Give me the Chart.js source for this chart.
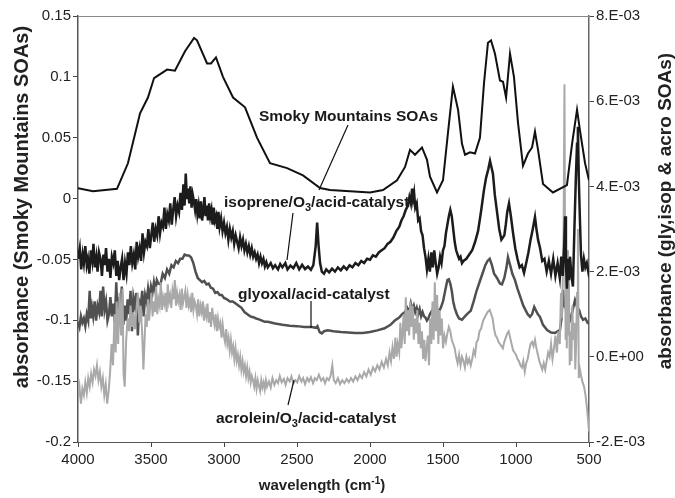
<!DOCTYPE html>
<html><head><meta charset="utf-8">
<script src="https://cdn.jsdelivr.net/npm/chart.js@4/dist/chart.umd.min.js"></script>
<style>html,body{margin:0;padding:0;background:#fff}#wrap{width:675px;height:498px}</style>
</head><body><div id="wrap"><canvas id="c" width="675" height="498"></canvas></div>
<script>
// x tick values / labels
const xTicks = [4000,3500,3000,2500,2000,1500,1000,500];
const leftTicks = [0.15,0.1,0.05,0,-0.05,-0.1,-0.15,-0.2];
const leftLabels = ['0.15','0.1','0.05','0','-0.05','-0.1','-0.15','-0.2'];
const rightTicks = [8,6,4,2,0,-2]; // in 1E-3
const rightLabels = ['8.E-03','6.E-03','4.E-03','2.E-03','0.E+00','-2.E-03'];

// Smoky Mountains SOAs (left axis) [wavenumber, absorbance]
const smoky = [[4000,0.0086],[3897,0.006],[3733,0.008],[3658,0.029],[3575,0.070],[3521,0.083],[3479,0.099],[3390,0.106],[3336,0.105],[3267,0.121],[3205,0.132],[3185,0.130],[3116,0.111],[3089,0.111],[3055,0.116],[3007,0.100],[2938,0.083],[2856,0.075],[2774,0.050],[2685,0.029],[2568,0.025],[2459,0.019],[2342,0.0086],[2274,0.007],[2000,0.005],[1911,0.007],[1815,0.015],[1760,0.026],[1726,0.040],[1692,0.036],[1644,0.042],[1610,0.032],[1589,0.018],[1541,0.005],[1500,0.015],[1466,0.054],[1432,0.092],[1397,0.073],[1370,0.045],[1349,0.036],[1315,0.038],[1281,0.037],[1247,0.050],[1219,0.095],[1192,0.128],[1171,0.130],[1144,0.119],[1110,0.097],[1089,0.096],[1068,0.083],[1041,0.119],[1014,0.100],[986,0.062],[952,0.027],[918,0.037],[890,0.042],[870,0.055],[849,0.040],[815,0.012],[747,0.005],[651,0.011],[616,0.045],[582,0.073],[562,0.056],[527,0.029],[500,0.015]];

// isoprene/O3/acid-catalyst (right axis, x1E-3)
const isoprene = [[4000,2.3],[3988,2.55],[3978,2.05],[3968,2.4],[3960,2.2],[3950,2.6],[3940,2.15],[3932,2.3],[3922,1.95],[3912,2.5],[3902,2.25],[3894,2.65],[3884,2.1],[3874,2.35],[3866,2.0],[3856,2.45],[3846,2.3],[3836,1.9],[3826,2.4],[3818,2.15],[3808,2.55],[3798,2.0],[3788,2.3],[3778,1.85],[3768,2.35],[3758,2.2],[3748,2.5],[3738,1.9],[3728,2.25],[3718,1.8],[3708,2.1],[3698,2.3],[3688,1.8],[3678,2.2],[3668,1.95],[3658,2.45],[3648,2.15],[3638,2.6],[3628,2.2],[3618,2.4],[3608,2.05],[3598,2.7],[3588,2.35],[3578,2.55],[3568,2.25],[3558,2.9],[3548,2.45],[3538,2.7],[3528,2.6],[3518,3.0],[3508,2.55],[3498,2.85],[3488,3.15],[3478,2.7],[3468,3.0],[3458,2.85],[3448,3.3],[3438,2.9],[3428,3.15],[3418,3.05],[3408,3.5],[3398,3.0],[3388,3.35],[3378,3.2],[3368,3.6],[3358,3.1],[3348,3.45],[3338,3.75],[3328,3.3],[3318,3.55],[3308,3.4],[3298,3.85],[3288,3.45],[3278,4.05],[3270,3.55],[3262,4.3],[3254,3.7],[3246,3.95],[3238,3.6],[3230,4.0],[3222,3.5],[3214,3.8],[3206,3.65],[3198,3.45],[3190,3.7],[3182,3.35],[3174,3.55],[3166,3.25],[3158,3.65],[3150,3.2],[3142,3.4],[3134,3.75],[3126,3.3],[3118,3.55],[3110,3.2],[3102,3.6],[3094,3.3],[3086,3.45],[3078,3.1],[3070,3.5],[3062,3.2],[3054,3.3],[3046,3.0],[3038,3.4],[3030,3.05],[3020,3.25],[3010,2.95],[3000,3.15],[2990,2.9],[2980,3.05],[2970,2.75],[2960,3.0],[2950,2.8],[2940,2.95],[2930,2.65],[2920,2.85],[2910,2.7],[2900,2.55],[2890,2.8],[2880,2.6],[2870,2.75],[2860,2.5],[2850,2.65],[2840,2.45],[2830,2.6],[2820,2.4],[2810,2.55],[2800,2.35],[2790,2.45],[2780,2.3],[2770,2.4],[2760,2.2],[2750,2.35],[2740,2.2],[2730,2.3],[2720,2.12],[2710,2.22],[2700,2.1],[2680,2.2],[2665,2.08],[2650,2.15],[2630,2.05],[2615,2.18],[2600,2.1],[2580,2.2],[2565,2.05],[2545,2.14],[2525,2.08],[2505,2.2],[2485,2.05],[2465,2.16],[2445,2.06],[2425,2.12],[2405,2.04],[2388,2.15],[2372,2.6],[2362,3.15],[2352,2.6],[2342,2.2],[2330,2.0],[2315,1.95],[2300,2.05],[2280,1.98],[2260,2.07],[2240,2.0],[2220,2.1],[2200,2.03],[2180,2.12],[2160,2.05],[2140,2.15],[2120,2.1],[2100,2.2],[2080,2.15],[2060,2.25],[2040,2.2],[2020,2.3],[2000,2.28],[1980,2.38],[1960,2.35],[1940,2.45],[1920,2.5],[1900,2.55],[1880,2.65],[1860,2.7],[1840,2.8],[1820,2.95],[1800,3.05],[1785,3.2],[1770,3.3],[1755,3.45],[1740,3.55],[1730,3.75],[1720,3.6],[1712,3.95],[1705,3.7],[1698,3.85],[1690,3.5],[1680,3.6],[1670,3.2],[1660,3.25],[1650,2.95],[1640,2.85],[1630,2.55],[1620,2.35],[1610,2.05],[1600,2.3],[1590,2.0],[1580,2.45],[1570,2.1],[1560,2.5],[1550,2.2],[1540,1.95],[1530,2.1],[1520,2.35],[1510,2.2],[1500,2.5],[1490,2.6],[1480,2.9],[1470,3.1],[1460,3.3],[1450,3.45],[1440,3.3],[1430,3.0],[1420,2.7],[1410,2.5],[1400,2.4],[1390,2.3],[1380,2.35],[1370,2.2],[1360,2.25],[1340,2.3],[1320,2.4],[1300,2.5],[1280,2.7],[1260,2.95],[1240,3.4],[1220,3.9],[1205,4.2],[1190,4.4],[1178,4.6],[1168,4.45],[1158,4.3],[1145,3.8],[1130,3.4],[1115,3.0],[1100,2.75],[1090,2.8],[1080,2.85],[1070,3.1],[1060,3.4],[1048,3.6],[1035,3.3],[1020,2.9],[1005,2.55],[990,2.3],[975,2.1],[960,2.15],[945,1.97],[930,2.2],[915,2.45],[900,2.75],[885,3.0],[870,3.28],[860,3.0],[849,2.75],[835,2.55],[820,2.25],[805,2.3],[790,2.0],[775,2.25],[760,1.95],[745,2.3],[730,1.9],[715,2.2],[700,1.85],[690,2.35],[680,1.9],[670,2.6],[664,3.3],[658,2.2],[651,1.6],[644,2.3],[637,1.8],[630,2.35],[620,1.9],[610,1.65],[600,3.0],[590,4.2],[582,5.0],[576,5.4],[570,4.2],[562,3.2],[555,2.4],[545,2.0],[535,2.3],[525,2.1],[515,2.2],[505,2.0],[500,2.1]];

// glyoxal/acid-catalyst (right axis, x1E-3)
const glyoxal = [[4000,0.82],[3990,0.7],[3980,0.95],[3970,0.8],[3960,0.9],[3950,0.72],[3940,1.0],[3930,0.85],[3920,1.55],[3912,0.9],[3904,1.15],[3896,0.95],[3886,1.3],[3876,0.85],[3866,1.2],[3856,1.05],[3846,1.55],[3838,0.95],[3828,1.65],[3818,1.1],[3808,1.3],[3798,0.85],[3788,1.0],[3778,1.4],[3768,0.95],[3758,1.25],[3748,0.8],[3738,1.75],[3730,1.1],[3720,1.4],[3710,1.0],[3700,1.65],[3690,0.75],[3680,1.2],[3670,0.85],[3660,1.35],[3650,1.0],[3640,1.55],[3630,0.6],[3620,1.4],[3610,1.2],[3600,1.5],[3590,0.5],[3580,1.3],[3570,1.2],[3560,1.55],[3550,0.95],[3540,1.45],[3530,1.3],[3520,1.6],[3510,1.35],[3500,1.65],[3490,1.5],[3480,1.75],[3470,1.55],[3460,1.8],[3450,1.72],[3435,1.7],[3420,1.95],[3405,1.85],[3390,2.05],[3375,1.95],[3360,2.15],[3345,2.1],[3330,2.25],[3315,2.2],[3300,2.3],[3285,2.3],[3270,2.4],[3255,2.38],[3240,2.38],[3225,2.33],[3210,2.2],[3195,2.0],[3180,1.85],[3165,1.8],[3150,1.75],[3135,1.78],[3120,1.7],[3105,1.72],[3090,1.62],[3075,1.6],[3060,1.5],[3045,1.52],[3030,1.45],[3015,1.45],[3000,1.38],[2980,1.35],[2960,1.3],[2940,1.3],[2920,1.25],[2900,1.2],[2880,1.15],[2860,1.05],[2840,1.0],[2820,0.95],[2800,0.93],[2780,0.9],[2760,0.88],[2740,0.85],[2720,0.82],[2700,0.82],[2650,0.78],[2600,0.75],[2550,0.73],[2500,0.72],[2450,0.7],[2400,0.7],[2370,0.68],[2360,0.72],[2345,0.58],[2330,0.55],[2315,0.6],[2290,0.62],[2250,0.6],[2200,0.58],[2150,0.57],[2100,0.56],[2050,0.56],[2000,0.58],[1950,0.62],[1900,0.67],[1860,0.75],[1830,0.85],[1800,0.92],[1780,1.0],[1760,1.05],[1745,1.15],[1730,1.05],[1720,1.25],[1710,1.1],[1700,1.2],[1690,1.05],[1680,1.15],[1670,1.0],[1660,1.12],[1650,0.95],[1640,1.05],[1630,0.95],[1620,0.92],[1610,0.85],[1600,0.9],[1590,1.0],[1575,1.08],[1560,1.18],[1545,1.15],[1530,1.05],[1515,1.15],[1500,1.3],[1485,1.55],[1470,1.8],[1460,1.82],[1450,1.72],[1440,1.55],[1430,1.3],[1420,1.15],[1405,1.0],[1390,0.9],[1370,0.87],[1350,0.95],[1330,1.02],[1310,1.08],[1290,1.3],[1270,1.55],[1250,1.75],[1230,1.95],[1210,2.15],[1195,2.25],[1180,2.3],[1165,2.15],[1150,1.95],[1130,1.85],[1110,1.72],[1096,1.7],[1080,1.85],[1065,2.1],[1055,2.34],[1040,2.15],[1025,1.95],[1007,1.8],[990,1.6],[970,1.4],[950,1.2],[938,1.12],[920,1.0],[904,0.94],[890,1.0],[875,1.17],[865,1.1],[850,1.0],[836,0.94],[815,0.75],[787,0.63],[760,0.57],[733,0.56],[699,0.63],[688,0.9],[678,1.57],[670,1.2],[660,1.15],[651,1.1],[640,0.95],[630,0.87],[615,1.05],[596,1.33],[580,1.15],[568,1.1],[555,0.95],[541,0.87],[525,0.9],[510,0.8],[500,0.82]];

// acrolein/O3/acid-catalyst (right axis, x1E-3)
const acrolein = [[4000,-0.95],[3990,-0.7],[3980,-1.1],[3970,-0.75],[3960,-0.9],[3950,-0.6],[3940,-0.85],[3930,-0.5],[3920,-0.7],[3910,-0.4],[3900,-0.6],[3890,-0.3],[3880,-0.45],[3870,-0.2],[3860,-0.55],[3850,-0.35],[3840,-0.7],[3830,-0.5],[3820,-0.9],[3810,-0.65],[3800,-1.1],[3790,-0.8],[3780,-0.35],[3770,0.3],[3760,-0.2],[3750,1.0],[3742,0.1],[3735,1.3],[3725,0.3],[3715,1.5],[3705,0.5],[3695,1.6],[3688,-0.4],[3680,-0.7],[3670,0.4],[3660,0.9],[3650,0.6],[3640,1.2],[3630,0.7],[3620,1.05],[3610,0.65],[3600,1.1],[3590,1.5],[3580,0.8],[3570,1.2],[3560,0.5],[3552,-0.3],[3545,0.3],[3537,1.0],[3529,0.7],[3521,1.35],[3513,0.85],[3505,1.2],[3497,1.5],[3489,0.95],[3481,1.3],[3473,1.05],[3465,1.65],[3457,1.0],[3449,1.35],[3441,1.2],[3433,1.75],[3425,1.1],[3417,1.4],[3409,1.25],[3401,1.5],[3393,1.05],[3385,1.7],[3377,1.3],[3369,1.45],[3361,1.15],[3353,1.55],[3345,1.35],[3337,1.8],[3329,1.2],[3321,1.5],[3313,1.3],[3305,1.45],[3297,1.1],[3289,1.6],[3281,1.25],[3273,1.4],[3265,1.55],[3257,1.15],[3249,1.45],[3241,1.2],[3233,1.35],[3225,1.05],[3217,1.5],[3209,1.1],[3201,1.3],[3193,1.2],[3185,1.0],[3177,1.35],[3169,0.95],[3161,1.2],[3153,1.05],[3145,1.3],[3137,0.85],[3129,1.1],[3121,0.95],[3113,1.25],[3105,0.8],[3097,1.05],[3089,0.7],[3081,1.15],[3073,0.9],[3065,0.75],[3057,1.0],[3049,0.6],[3041,0.9],[3033,0.7],[3025,0.8],[3017,0.45],[3009,0.75],[3001,0.5],[2993,0.35],[2985,0.65],[2977,0.3],[2969,0.45],[2961,0.15],[2953,0.4],[2945,0.1],[2937,0.25],[2929,-0.05],[2921,0.2],[2913,-0.1],[2905,0.05],[2897,-0.2],[2889,0.0],[2881,-0.3],[2873,-0.1],[2865,-0.35],[2857,-0.2],[2849,-0.45],[2841,-0.25],[2833,-0.5],[2825,-0.35],[2817,-0.6],[2809,-0.45],[2801,-0.55],[2793,-0.7],[2785,-0.5],[2777,-0.75],[2769,-0.55],[2761,-0.68],[2753,-0.8],[2745,-0.55],[2737,-0.72],[2729,-0.6],[2721,-0.76],[2713,-0.55],[2705,-0.7],[2692,-0.58],[2680,-0.72],[2668,-0.5],[2655,-0.66],[2642,-0.55],[2630,-0.62],[2618,-0.45],[2605,-0.6],[2590,-0.52],[2578,-0.66],[2565,-0.5],[2550,-0.58],[2538,-0.46],[2525,-0.62],[2510,-0.55],[2498,-0.6],[2485,-0.45],[2470,-0.58],[2458,-0.5],[2445,-0.64],[2430,-0.5],[2418,-0.58],[2405,-0.48],[2390,-0.62],[2378,-0.5],[2365,-0.55],[2350,-0.42],[2335,-0.56],[2320,-0.5],[2308,-0.62],[2295,-0.5],[2282,-0.55],[2270,-0.45],[2258,-0.2],[2248,-0.55],[2235,-0.62],[2220,-0.5],[2205,-0.64],[2190,-0.55],[2175,-0.62],[2160,-0.52],[2145,-0.6],[2130,-0.5],[2115,-0.58],[2100,-0.46],[2085,-0.55],[2070,-0.42],[2055,-0.5],[2040,-0.36],[2025,-0.46],[2010,-0.3],[1995,-0.42],[1980,-0.25],[1965,-0.34],[1950,-0.2],[1935,-0.3],[1920,-0.12],[1905,-0.25],[1890,-0.05],[1878,-0.2],[1866,0.1],[1856,-0.1],[1846,0.22],[1836,-0.05],[1826,0.45],[1818,0.0],[1810,0.3],[1800,0.1],[1792,0.8],[1785,0.2],[1778,0.5],[1770,1.0],[1762,0.3],[1755,1.4],[1748,0.6],[1740,1.1],[1732,0.5],[1724,1.3],[1716,0.7],[1708,1.2],[1700,0.4],[1692,0.9],[1684,0.55],[1676,1.1],[1668,0.3],[1660,0.8],[1652,0.2],[1644,0.6],[1636,-0.05],[1628,0.4],[1620,-0.1],[1612,0.2],[1604,0.5],[1596,-0.2],[1588,0.9],[1580,0.3],[1572,1.3],[1564,0.4],[1556,1.75],[1548,0.6],[1540,1.45],[1532,0.3],[1524,1.1],[1516,0.5],[1508,0.9],[1500,0.2],[1490,0.5],[1480,0.35],[1470,0.55],[1460,0.7],[1450,0.6],[1440,0.4],[1430,0.3],[1420,0.2],[1410,0.0],[1400,-0.15],[1390,0.05],[1380,-0.2],[1370,0.0],[1360,-0.1],[1350,-0.25],[1340,0.0],[1330,-0.15],[1320,-0.05],[1310,-0.2],[1300,-0.05],[1290,0.15],[1280,0.05],[1270,0.35],[1260,0.4],[1250,0.6],[1240,0.65],[1225,0.85],[1210,0.95],[1195,1.05],[1180,1.1],[1170,1.0],[1160,0.9],[1150,0.65],[1140,0.5],[1130,0.45],[1120,0.35],[1110,0.3],[1100,0.25],[1090,0.2],[1080,0.35],[1070,0.45],[1060,0.55],[1050,0.6],[1040,0.45],[1030,0.3],[1020,0.15],[1010,0.1],[1000,0.05],[990,-0.05],[980,-0.1],[970,-0.2],[960,-0.25],[950,-0.1],[940,-0.35],[930,-0.15],[920,-0.05],[910,0.15],[900,0.3],[890,0.35],[880,0.25],[870,0.4],[860,0.2],[850,0.05],[840,-0.1],[830,-0.2],[820,-0.3],[810,-0.15],[800,-0.3],[790,-0.1],[780,0.1],[770,0.0],[760,0.3],[750,-0.05],[740,0.2],[730,0.5],[720,0.1],[710,0.6],[700,0.3],[692,1.5],[686,0.9],[680,1.7],[674,3.0],[668,6.4],[664,2.5],[660,0.4],[656,1.8],[652,0.2],[648,2.5],[644,0.5],[638,1.9],[632,-0.2],[626,0.6],[620,-0.1],[614,1.2],[608,0.4],[600,0.8],[594,-0.3],[588,0.3],[582,1.5],[576,3.0],[570,-0.5],[562,-0.3],[554,-0.45],[544,-0.6],[534,-0.7],[524,-0.9],[514,-1.2],[506,-1.5],[500,-1.75]];

const toXY = (arr, k) => arr.map(p => ({x: p[0], y: p[1] * k}));

const annotations = [
  {parts:[['Smoky Mountains SOAs',0]], x:259, y:117, line:[348,125,319,190]},
  {parts:[['isoprene/O',0],['3',1],['/acid-catalyst',0]], x:224, y:203, line:[293,213,287,260]},
  {parts:[['glyoxal/acid-catalyst',0]], x:238, y:295, line:[311,301,311,328]},
  {parts:[['acrolein/O',0],['3',1],['/acid-catalyst',0]], x:216, y:419, line:[288,405,294,380]}
];

const textPlugin = {
  id: 'texts',
  afterDatasetsDraw(chart) {
    const ctx = chart.ctx, a = chart.chartArea;
    ctx.save();
    ctx.strokeStyle = '#8a8a8a'; ctx.lineWidth = 1;
    ctx.beginPath(); ctx.moveTo(a.left, a.top + 0.5); ctx.lineTo(a.right, a.top + 0.5); ctx.stroke();
    ctx.fillStyle = '#1a1a1a'; ctx.textBaseline = 'middle';
    annotations.forEach(an => {
      let x = an.x;
      an.parts.forEach(([t, sub]) => {
        ctx.font = sub ? 'bold 11px "Liberation Sans", Arial, sans-serif' : 'bold 15.5px "Liberation Sans", Arial, sans-serif';
        ctx.fillText(t, x, an.y + (sub ? 5 : 0));
        x += ctx.measureText(t).width;
      });
      ctx.strokeStyle = '#111'; ctx.lineWidth = 1.2;
      ctx.beginPath(); ctx.moveTo(an.line[0], an.line[1]); ctx.lineTo(an.line[2], an.line[3]); ctx.stroke();
    });
    ctx.fillStyle = '#222'; ctx.textAlign = 'center';
    ctx.save(); ctx.translate(22, 207); ctx.rotate(-Math.PI/2);
    ctx.font = 'bold 20px "Liberation Sans", Arial, sans-serif';
    ctx.fillText('absorbance (Smoky Mountains SOAs)', 0, 0); ctx.restore();
    ctx.save(); ctx.translate(666, 211); ctx.rotate(-Math.PI/2);
    ctx.font = 'bold 19px "Liberation Sans", Arial, sans-serif';
    ctx.fillText('absorbance (gly,isop & acro SOAs)', 0, 0); ctx.restore();
    ctx.textAlign = 'left';
    const f1 = 'bold 15px "Liberation Sans", Arial, sans-serif', f2 = 'bold 10px "Liberation Sans", Arial, sans-serif';
    const t1 = 'wavelength (cm', t2 = '-1', t3 = ')';
    ctx.font = f1; const w1 = ctx.measureText(t1).width, w3 = ctx.measureText(t3).width;
    ctx.font = f2; const w2 = ctx.measureText(t2).width;
    let x0 = 322 - (w1 + w2 + w3) / 2, yb = 486;
    ctx.font = f1; ctx.fillText(t1, x0, yb);
    ctx.font = f2; ctx.fillText(t2, x0 + w1, yb - 5);
    ctx.font = f1; ctx.fillText(t3, x0 + w1 + w2, yb);
    ctx.restore();
  }
};

const tickFont = {family: '"Liberation Sans", Arial, sans-serif', size: 15};
new Chart(document.getElementById('c'), {
  type: 'line',
  data: {
    datasets: [
      {label:'Smoky Mountains SOAs', data: toXY(smoky, 1), yAxisID:'y', borderColor:'#111', borderWidth:2, order:1},
      {label:'isoprene/O3/acid-catalyst', data: toXY(isoprene, 1e-3), yAxisID:'y2', borderColor:'#1c1c1c', borderWidth:2.5, order:2},
      {label:'acrolein/O3/acid-catalyst', data: toXY(acrolein, 1e-3), yAxisID:'y2', borderColor:'#a9a9a9', borderWidth:2, order:3},
      {label:'glyoxal/acid-catalyst', data: toXY(glyoxal, 1e-3), yAxisID:'y2', borderColor:'#505050', borderWidth:2.5, order:4}
    ]
  },
  options: {
    responsive: false, animation: false, devicePixelRatio: 1,
    layout: {padding: {top: 16, left: 0, right: 0, bottom: 0}},
    elements: {point: {radius: 0}, line: {tension: 0}},
    plugins: {legend: {display: false}, tooltip: {enabled: false}},
    scales: {
      x: {type:'linear', reverse:true, min:500, max:4000,
        afterBuildTicks: s => { s.ticks = xTicks.map(v => ({value: v})); },
        afterFit: s => { s.height = 56; },
        ticks: {font: tickFont, color:'#222', padding: 4, maxRotation: 0, callback: (v) => String(v)},
        grid: {display:true, drawOnChartArea:false, drawTicks:true, tickLength:5, tickColor:'#444'},
        border: {display:true, color:'#555', width:1}},
      y: {position:'left', min:-0.2, max:0.15,
        afterBuildTicks: s => { s.ticks = leftTicks.map(v => ({value: v})); },
        afterFit: s => { s.width = 78; },
        ticks: {font: tickFont, color:'#222', padding: 2, callback: (v, i) => leftLabels[i]},
        grid: {display:true, drawOnChartArea:false, drawTicks:true, tickLength:5, tickColor:'#444'},
        border: {display:true, color:'#555', width:1.5}},
      y2: {position:'right', min:-0.002, max:0.008,
        afterBuildTicks: s => { s.ticks = rightTicks.map(v => ({value: v * 1e-3})); },
        afterFit: s => { s.width = 86; },
        ticks: {font: tickFont, color:'#222', padding: 2, callback: (v, i) => rightLabels[i]},
        grid: {display:true, drawOnChartArea:false, drawTicks:true, tickLength:5, tickColor:'#444'},
        border: {display:true, color:'#666', width:1.5}}
    }
  },
  plugins: [textPlugin]
});
</script></body></html>
